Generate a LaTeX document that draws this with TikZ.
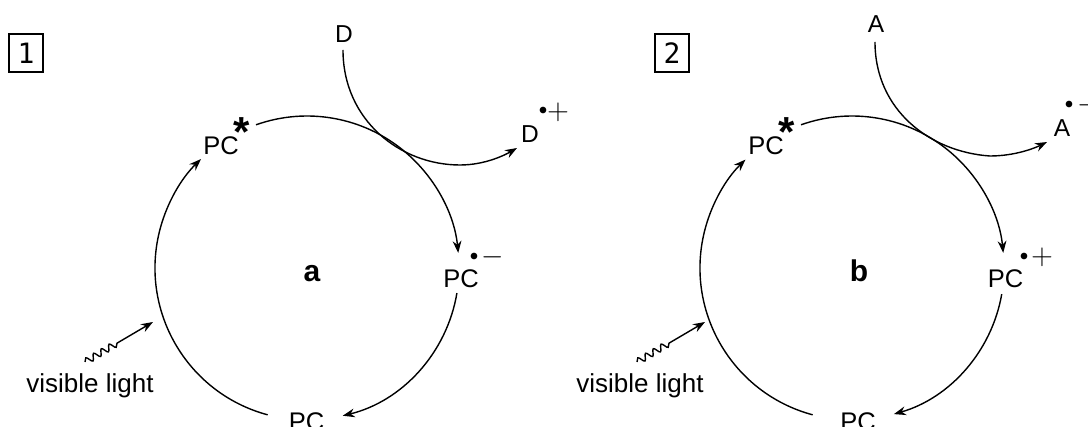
\documentclass[tikz,border=0pt]{standalone}
\usepackage{fontspec}
\setmainfont{Liberation Sans}
\newfontfamily\digitfont{DejaVu Sans Mono}
\usetikzlibrary{arrows.meta,decorations.pathmorphing}
\begin{document}
\begin{tikzpicture}[x=0.5pt,y=-0.5pt,
  pcl/.style={inner sep=0pt,anchor=base,font=\fontsize{12.75}{15}\selectfont},
  mol/.style={inner sep=0pt,anchor=base,font=\fontsize{12.25}{14}\selectfont},
  rad/.style={inner sep=0pt,font=\fontsize{8}{9}\selectfont},
  chg/.style={inner sep=0pt,font=\fontsize{14.4}{16}\selectfont},
  starlbl/.style={inner sep=0pt,anchor=north,font=\fontsize{21}{24}\selectfont\bfseries},
  cyclbl/.style={inner sep=0pt,anchor=base,font=\fontsize{15}{18}\selectfont\bfseries},
  numbox/.style={draw,line width=0.6pt,minimum width=17pt,minimum height=19pt,inner sep=0pt,font=\digitfont\fontsize{14}{16}\selectfont},
  lightlbl/.style={inner sep=0pt,anchor=base,font=\fontsize{13}{15}\selectfont},
  cyc/.style={line width=0.7pt,-{Stealth[length=6pt,width=4.4pt]}},
  wavy/.style={line width=0.7pt,decorate,decoration={snake,segment length=4.5pt,amplitude=1.6pt}}
]
\useasboundingbox (0,0) rectangle (1088,427);

% ---------------- panel 1 ----------------
\node[numbox] (box1) at (26,53) {1};
\coordinate (c1) at (307,268);

\node[pcl] (pcstar1) at (221,155) {PC};
\node[starlbl] (star1) at (242,117) {*};
\node[pcl] (pcm1) at (461,288) {PC};
\node[rad] (pcmdot1) at (474,257) {$\bullet$};
\node[chg] (pcmchg1) at (493,257) {$-$};
\node[pcl] (pc1) at (306.5,430) {PC};
\node[cyclbl] (lbla) at (312,282) {a};
\node[mol] (D1) at (344,43) {D};
\node[mol] (Dp1) at (530,143) {D};
\node[rad] (Dpdot1) at (543,111) {$\bullet$};
\node[chg] (Dpchg1) at (558,112) {$+$};
\node[lightlbl] (light1) at (90,393) {visible light};

\coordinate (a1s) at ([shift={(-109.6:152)}]c1);
\coordinate (a2s) at ([shift={(9.5:152)}]c1);
\coordinate (a3s) at ([shift={(105:152)}]c1);
\draw[cyc] (a1s) arc[start angle=-109.6,end angle=-5.7,radius=152];
\draw[cyc] (a2s) arc[start angle=9.5,end angle=76.4,radius=152];
\draw[cyc] (a3s) arc[start angle=105,end angle=225.8,radius=152];

\coordinate (d1s) at (343,50);
\coordinate (d1m) at (460,165);
\coordinate (d1e) at (517,148);
\draw[cyc] (d1s) .. controls (343,120) and (400,165) .. (d1m)
  .. controls (485,165) and (505,155) .. (d1e);

\coordinate (w1a) at (85,362);
\coordinate (w1b) at (119,342);
\coordinate (w1c) at (153,322);
\draw[wavy] (w1a) -- (w1b);
\draw[cyc] (w1b) -- (w1c);

% ---------------- panel 2 ----------------
\node[numbox] (box2) at (672,53) {2};
\coordinate (c2) at (852,268);

\node[pcl] (pcstar2) at (766,155) {PC};
\node[starlbl] (star2) at (787,117) {*};
\node[pcl] (pcp2) at (1005.5,288) {PC};
\node[rad] (pcpdot2) at (1024,257) {$\bullet$};
\node[chg] (pcpchg2) at (1042,257) {$+$};
\node[pcl] (pc2) at (858,430) {PC};
\node[cyclbl] (lblb) at (859,282) {b};
\node[mol] (A2) at (876,33) {A};
\node[mol] (Am2) at (1062,137) {A};
\node[rad] (Amdot2) at (1069,105) {$\bullet$};
\node[chg] (Amchg2) at (1089,105) {$-$};
\node[lightlbl] (light2) at (640,393) {visible light};

\coordinate (b1s) at ([shift={(-109.6:152)}]c2);
\coordinate (b2s) at ([shift={(9.9:152)}]c2);
\coordinate (b3s) at ([shift={(105:152)}]c2);
\draw[cyc] (b1s) arc[start angle=-109.6,end angle=-5.7,radius=152];
\draw[cyc] (b2s) arc[start angle=9.9,end angle=74,radius=152];
\draw[cyc] (b3s) arc[start angle=105,end angle=225.5,radius=152];

\coordinate (e2s) at (875,42);
\coordinate (e2m) at (990,156);
\coordinate (e2e) at (1047,142);
\draw[cyc] (e2s) .. controls (875,110) and (930,152) .. (e2m)
  .. controls (1015,156) and (1035,148) .. (e2e);

\coordinate (w2a) at (637,362);
\coordinate (w2b) at (671,342);
\coordinate (w2c) at (705,322);
\draw[wavy] (w2a) -- (w2b);
\draw[cyc] (w2b) -- (w2c);
\end{tikzpicture}
\end{document}
